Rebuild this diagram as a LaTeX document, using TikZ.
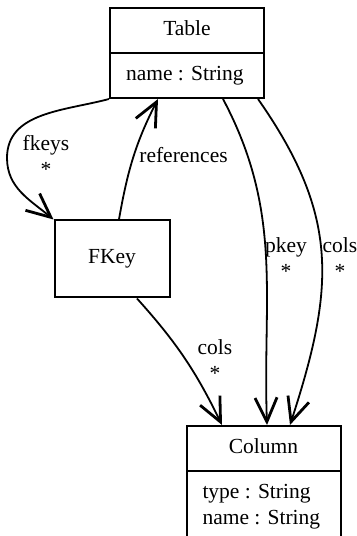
\documentclass[tikz,border=0pt]{standalone}
\usepackage{fontspec}
\setmainfont{Liberation Serif}
\usetikzlibrary{arrows.meta,shapes.multipart}

\tikzset{
  classbox/.style={rectangle split, rectangle split parts=2, draw, line width=1pt,
    minimum width=77pt, inner xsep=8pt, inner ysep=4.25pt, align=left,
    rectangle split part align={center,left}},
  plainclass/.style={draw, line width=1pt, minimum width=57.5pt, minimum height=38.5pt},
  assoc/.style={line width=0.9pt, -{Straight Barb[length=12pt,width=11pt,line width=1.4pt]}},
  rolelabel/.style={align=center, inner sep=0pt}
}

\begin{document}
\begin{tikzpicture}[x=0.5pt, y=0.5pt, font=\fontsize{10.75}{13}\selectfont]
\useasboundingbox (0,0) rectangle (357,536);

% Classes
\node[classbox, anchor=north] (table) at (187,529)
  {\strut Table \nodepart{two}\strut name : String};
\node[plainclass] (fkey) at (112,277) {FKey};
\node[classbox, anchor=north] (column) at (263.5,111)
  {\strut Column \nodepart{two}\strut type : String\\\strut name : String};

% Associations
\path (7,378) coordinate (fkbend);
\draw[assoc] (table.south west) to[out=195,in=90] (fkbend) to[out=270,in=140] (fkey.north west);
\draw[assoc] (fkey.80) to[out=80,in=243] ([xshift=-14.5pt]table.south);
\draw[assoc] ([xshift=18pt]table.south) to[out=-62,in=92] ([xshift=1.75pt]column.north);
\draw[assoc] ([xshift=35.5pt]table.south) to[out=-55,in=72,looseness=1.12] ([xshift=13.25pt]column.north);
\draw[assoc] ([xshift=12.5pt]fkey.south) to[out=-48,in=116] ([xshift=-20.75pt]column.north);

% Role names
\node[rolelabel] (fkeyslbl) at (46,380) {fkeys\\*};
\node[rolelabel] (refslbl) at (183.5,381) {references};
\node[rolelabel] (pkeylbl) at (286,278) {pkey\\*};
\node[rolelabel] (colslbl) at (340,278) {cols\\*};
\node[rolelabel] (fkcolslbl) at (215,176) {cols\\*};
\end{tikzpicture}
\end{document}
